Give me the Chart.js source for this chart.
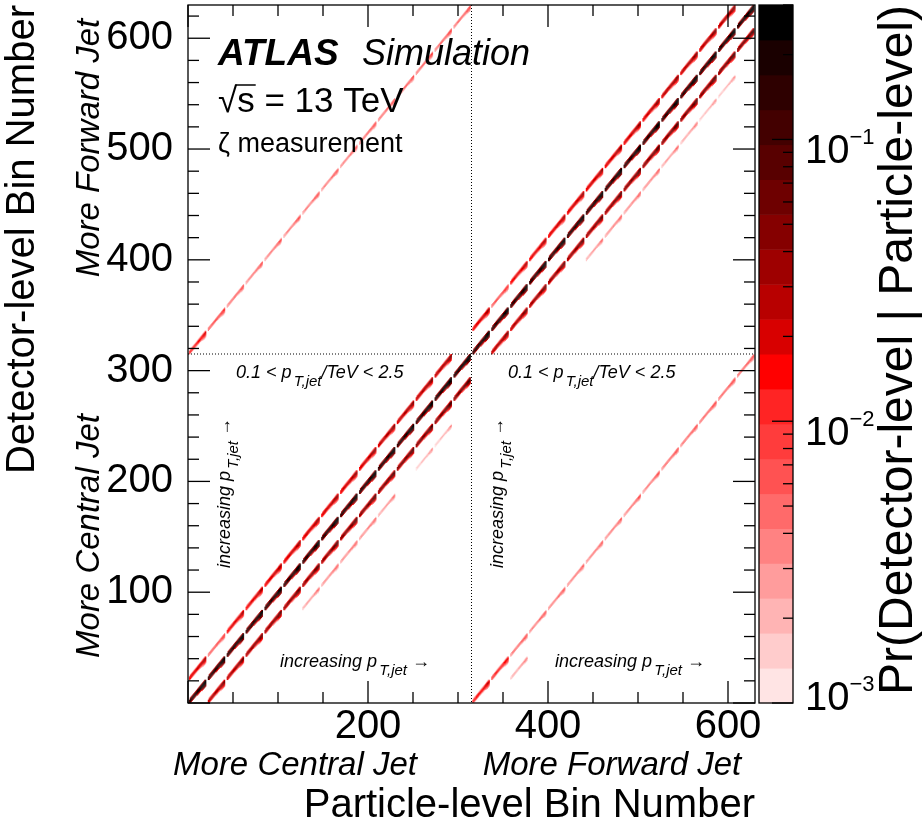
<!DOCTYPE html>
<html>
<head>
<meta charset="utf-8">
<script src="https://cdn.jsdelivr.net/npm/chart.js@4.4.1/dist/chart.umd.min.js"></script>
<style>
  html, body { margin: 0; padding: 0; background: #fff; }
  #wrap { width: 923px; height: 829px; }
</style>
</head>
<body>
<div id="wrap"><canvas id="matrix" width="923" height="829"></canvas></div>
<script>
// Response matrix: 2 eta regions x 15 pT blocks x 21 zeta bins = 630 bins on each axis
const regionBins = 315;
const ptBlocks = 15;
const zetaBins = 21;
const axisMax = 630;
const xTickLabels = [200, 400, 600];
const yTickLabels = [100, 200, 300, 400, 500, 600];

// probability on the diagonal of each pT block (middle of each dash)
const centralMain  = [0.26, 0.25, 0.24, 0.24, 0.24, 0.25, 0.25, 0.26, 0.26, 0.27, 0.27, 0.28, 0.28, 0.29, 0.3];
const centralUp    = [0.03, 0.007, 0.026, 0.028, 0.03, 0.032, 0.033, 0.035, 0.036, 0.038, 0.04, 0.04, 0.042, 0.045];
const centralDown  = [0.045, 0.05, 0.055, 0.06, 0.062, 0.065, 0.068, 0.07, 0.072, 0.075, 0.078, 0.08, 0.082, 0.085];
const centralDown2 = [0, 0, 0, 0, 0.0035, 0.004, 0.004, 0.004, 0.0035, 0, 0.0025, 0.0025, 0];
const forwardMain  = [0.27, 0.26, 0.25, 0.24, 0.24, 0.25, 0.25, 0.26, 0.26, 0.27, 0.27, 0.28, 0.28, 0.29, 0.3];
const forwardUp    = [0.03, 0.008, 0.026, 0.028, 0.03, 0.032, 0.033, 0.035, 0.036, 0.038, 0.04, 0.041, 0.042, 0.045];
const forwardDown  = [0.045, 0.05, 0.055, 0.06, 0.062, 0.065, 0.068, 0.07, 0.072, 0.075, 0.078, 0.08, 0.082, 0.085];
const forwardDown2 = [0, 0, 0, 0, 0.0035, 0.004, 0.004, 0.004, 0.0035, 0.003, 0.0025, 0.0025, 0];
// migrations between the regions (off-diagonal quadrants)
const centralToForward = [0.016, 0.008, 0.0055, 0.005, 0.005, 0.005, 0.005, 0.005, 0.005, 0.0055, 0.0055, 0.0055, 0.006, 0.006, 0.006];
const forwardToCentral = [0.02, 0.014, 0.0055, 0.005, 0.005, 0.0045, 0.0045, 0.0045, 0.005, 0.005, 0.0055, 0.0055, 0.006, 0.006, 0.006];
const forwardToCentralDown = [0, 0.003];

// shape of one dash: detector zeta = particle zeta - offset, weight per particle zeta bin
const zetaOffsets = [-2, -1, 0, 1, 2, 3, 4];
const zetaWeights = [
  [0, 0, .1, .1, .1, .1, .1, .1, .1, .1, .1, .1, .1, .1, .1, .1, .12, .12, .12, 0, 0],
  [0, .4, .45, .45, .45, .45, .45, .45, .45, .45, .45, .45, .45, .45, .5, .5, .55, .6, .6, .45, 0],
  [0, .45, .55, .6, .65, .7, .7, .72, .75, .78, .8, .82, .85, .88, .9, 1, 1.1, 1.2, 1.3, 1.1, 0],
  [0, .4, .45, .45, .45, .45, .45, .45, .45, .45, .45, .5, .5, .55, .6, .65, .75, .85, .9, .75, 0],
  [0, 0, .1, .1, .1, .1, .1, .1, .1, .12, .12, .15, .18, .2, .25, .3, .4, .5, .55, .45, 0],
  [0, 0, 0, 0, 0, 0, 0, 0, 0, 0, .03, .04, .05, .06, .08, .12, .18, .25, .3, .25, 0],
  [0, 0, 0, 0, 0, 0, 0, 0, 0, 0, 0, 0, 0, 0, 0, .04, .08, .12, .14, .1, 0]
];

// palette
const zMin = 1e-3, zMax = 0.3;
const levelColors = ['#ffe4e4', '#ffcccc', '#ffb4b4', '#ff9c9c', '#ff8282', '#ff6a6a', '#ff5252', '#ff3c3c', '#ff2424', '#ff0000',
                     '#d80000', '#b80000', '#9e0000', '#850000', '#6e0000', '#580000', '#430000', '#2e0000', '#1a0000', '#000000'];
const paletteLabels = [-3, -2, -1];

const fam = '"Liberation Sans", Arial, Helvetica, sans-serif';

function colorFor(v) {
  const t = (Math.log10(v) - Math.log10(zMin)) / (Math.log10(zMax) - Math.log10(zMin));
  const i = Math.max(0, Math.min(levelColors.length - 1, Math.floor(t * levelColors.length)));
  return levelColors[i];
}

function addBand(cells, values, partRegion, detRegion, firstPart, shift) {
  values.forEach((v, i) => {
    if (!v) return;
    const pb = firstPart + i, db = pb + shift;
    if (db < 0 || db >= ptBlocks) return;
    for (let k = 0; k < zetaBins; k++) {
      zetaOffsets.forEach((off, j) => {
        const w = zetaWeights[j][k];
        const d = k - off;
        if (!w || d < 0 || d >= zetaBins) return;
        const p = v * w;
        if (p < zMin) return;
        cells.push({
          x: partRegion * regionBins + pb * zetaBins + k,
          y: detRegion * regionBins + db * zetaBins + d,
          v: p
        });
      });
    }
  });
}

const cells = [];
addBand(cells, centralMain, 0, 0, 0, 0);
addBand(cells, centralUp, 0, 0, 0, 1);
addBand(cells, centralDown, 0, 0, 1, -1);
addBand(cells, centralDown2, 0, 0, 2, -2);
addBand(cells, forwardMain, 1, 1, 0, 0);
addBand(cells, forwardUp, 1, 1, 0, 1);
addBand(cells, forwardDown, 1, 1, 1, -1);
addBand(cells, forwardDown2, 1, 1, 2, -2);
addBand(cells, centralToForward, 0, 1, 0, 0);
addBand(cells, forwardToCentral, 1, 0, 0, 0);
addBand(cells, forwardToCentralDown, 1, 0, 1, -1);
cells.sort((a, b) => a.v - b.v);

function line(ctx, x0, y0, x1, y1) {
  ctx.beginPath();
  ctx.moveTo(x0, y0);
  ctx.lineTo(x1, y1);
  ctx.stroke();
}

// p_T,jet with subscript
function ptText(ctx, x, y, pre, post, size) {
  ctx.font = `italic ${size}px ${fam}`;
  ctx.fillText(pre, x, y);
  let w = ctx.measureText(pre).width + size * 0.12;
  const sub = Math.round(size * 0.85);
  ctx.font = `italic ${sub}px ${fam}`;
  ctx.fillText('T,jet', x + w, y + size * 0.45);
  w += ctx.measureText('T,jet').width;
  ctx.font = `italic ${size}px ${fam}`;
  ctx.fillText(post, x + w, y);
}

const heatPlugin = {
  id: 'heat',
  beforeDatasetsDraw(chart) {
    const {ctx, chartArea: a, scales: {x, y}} = chart;
    ctx.save();
    ctx.beginPath();
    ctx.rect(a.left, a.top, a.right - a.left, a.bottom - a.top);
    ctx.clip();
    chart.data.datasets[0].data.forEach(c => {
      const x0 = x.getPixelForValue(c.x), x1 = x.getPixelForValue(c.x + 1);
      const y0 = y.getPixelForValue(c.y + 1), y1 = y.getPixelForValue(c.y);
      ctx.fillStyle = colorFor(c.v);
      ctx.fillRect(x0, y0, x1 - x0 + 0.3, y1 - y0 + 0.3);
    });
    ctx.restore();
  },
  afterDraw(chart) {
    const {ctx, chartArea: a, scales: {x, y, z}} = chart;
    ctx.save();
    ctx.strokeStyle = '#000';
    ctx.fillStyle = '#000';

    // region separators
    ctx.lineWidth = 1;
    ctx.setLineDash([1, 2]);
    const sx = x.getPixelForValue(regionBins), sy = y.getPixelForValue(regionBins);
    line(ctx, sx, a.top, sx, a.bottom);
    line(ctx, a.left, sy, a.right, sy);
    ctx.setLineDash([]);

    // frame and inward ticks on all sides
    ctx.lineWidth = 1.3;
    ctx.strokeRect(a.left, a.top, a.right - a.left, a.bottom - a.top);
    for (let v = 0; v <= axisMax; v += 50) {
      const px = x.getPixelForValue(v), len = v % 200 === 0 ? 22 : 11;
      line(ctx, px, a.bottom, px, a.bottom - len);
      line(ctx, px, a.top, px, a.top + len);
    }
    for (let v = 0; v <= axisMax; v += 20) {
      const py = y.getPixelForValue(v), len = v % 100 === 0 ? 22 : 11;
      line(ctx, a.left, py, a.left + len, py);
      line(ctx, a.right, py, a.right - len, py);
    }

    // colour bar
    const bx0 = a.right + 4, bx1 = a.right + 38;
    const lo = Math.log10(zMin), step = (Math.log10(zMax) - lo) / levelColors.length;
    levelColors.forEach((col, i) => {
      const yb = z.getPixelForValue(Math.pow(10, lo + i * step));
      const yt = z.getPixelForValue(Math.pow(10, lo + (i + 1) * step));
      ctx.fillStyle = col;
      ctx.fillRect(bx0, yt, bx1 - bx0, yb - yt + 0.5);
    });
    ctx.fillStyle = '#000';
    ctx.strokeRect(bx0, a.top, bx1 - bx0, a.bottom - a.top);
    for (let e = -3; e <= -1; e++) {
      for (let m = 1; m <= 9; m++) {
        const v = m * Math.pow(10, e);
        if (v > zMax + 1e-9) continue;
        const py = z.getPixelForValue(v);
        line(ctx, bx1, py, bx1 - (m === 1 ? 21 : 10), py);
      }
    }
    paletteLabels.forEach(e => {
      const py = z.getPixelForValue(Math.pow(10, e));
      const base = Math.min(py + 24, 710);
      ctx.font = `40px ${fam}`;
      ctx.textAlign = 'left';
      ctx.textBaseline = 'alphabetic';
      ctx.fillText('10', bx1 + 12, base);
      const w = ctx.measureText('10').width;
      ctx.font = `22px ${fam}`;
      ctx.fillText('\u2212' + (-e), bx1 + 12 + w, base - 19);
    });

    // palette title, reading upwards
    ctx.save();
    ctx.translate(912, a.top);
    ctx.rotate(-Math.PI / 2);
    ctx.font = `48px ${fam}`;
    ctx.textAlign = 'right';
    ctx.fillText('Pr(Detector-level | Particle-level)', 0, 0);
    ctx.restore();

    // region names along the axes
    ctx.font = `italic 33px ${fam}`;
    ctx.textAlign = 'center';
    ctx.fillText('More Central Jet', 295, 775);
    ctx.fillText('More Forward Jet', 612, 775);
    ctx.save();
    ctx.translate(99, 148);
    ctx.rotate(-Math.PI / 2);
    ctx.fillText('More Forward Jet', 0, 0);
    ctx.restore();
    ctx.save();
    ctx.translate(99, 536);
    ctx.rotate(-Math.PI / 2);
    ctx.fillText('More Central Jet', 0, 0);
    ctx.restore();

    // ATLAS label
    ctx.textAlign = 'left';
    ctx.font = `italic bold 37px ${fam}`;
    ctx.fillText('ATLAS', 218, 65);
    ctx.font = `italic 36px ${fam}`;
    ctx.fillText('Simulation', 362, 65);
    ctx.font = `35px ${fam}`;
    ctx.fillText('\u221As = 13 TeV', 218, 112);
    const rw = ctx.measureText('\u221A').width, sw = ctx.measureText('s').width;
    ctx.lineWidth = 1.5;
    line(ctx, 218 + rw - 2, 85, 218 + rw + sw + 1, 85);
    ctx.font = `27px ${fam}`;
    ctx.fillText('\u03B6 measurement', 218, 152);

    // pT range and direction labels in each lower quadrant
    [[236, 230, 280], [508, 503, 555]].forEach(([tx, rx, ix]) => {
      ptText(ctx, tx, 378, '0.1 < p', '/TeV < 2.5', 18);
      ptText(ctx, ix, 667, 'increasing p', ' \u2192', 18);
      ctx.save();
      ctx.translate(rx, 568);
      ctx.rotate(-Math.PI / 2);
      ptText(ctx, 0, 0, 'increasing p', ' \u2192', 18);
      ctx.restore();
    });
    ctx.restore();
  }
};

new Chart(document.getElementById('matrix'), {
  type: 'scatter',
  data: {
    datasets: [{ label: 'Pr', data: cells, pointRadius: 0, pointHoverRadius: 0 }]
  },
  options: {
    responsive: false,
    animation: false,
    events: [],
    layout: { padding: { top: 5, left: 0, right: 0, bottom: 0 } },
    plugins: { legend: { display: false }, tooltip: { enabled: false } },
    scales: {
      x: {
        type: 'linear', position: 'bottom', min: 0, max: axisMax,
        grid: { display: false }, border: { display: false },
        afterBuildTicks: s => { s.ticks = xTickLabels.map(v => ({ value: v })); },
        ticks: {
          autoSkip: false, maxRotation: 0, padding: -8,
          color: '#000', font: { family: fam, size: 40 }
        },
        title: {
          display: true, text: 'Particle-level Bin Number', align: 'end', color: '#000',
          font: { family: fam, size: 40, lineHeight: 1.15 }, padding: 0
        },
        afterFit: s => { s.height = 126; s.paddingLeft = 0; s.paddingRight = 0; }
      },
      y: {
        type: 'linear', position: 'left', min: 0, max: axisMax,
        grid: { display: false }, border: { display: false },
        afterBuildTicks: s => { s.ticks = yTickLabels.map(v => ({ value: v })); },
        ticks: {
          autoSkip: false, padding: 7,
          color: '#000', font: { family: fam, size: 40 }
        },
        title: {
          display: true, text: 'Detector-level Bin Number', align: 'end', color: '#000',
          font: { family: fam, size: 40, lineHeight: 1.15 }, padding: 0
        },
        afterFit: s => { s.width = 188; s.paddingTop = 0; s.paddingBottom = 0; }
      },
      z: {
        type: 'logarithmic', position: 'right', min: zMin, max: zMax,
        grid: { display: false }, border: { display: false },
        ticks: { display: false },
        afterFit: s => { s.width = 168; s.paddingTop = 0; s.paddingBottom = 0; }
      }
    }
  },
  plugins: [heatPlugin]
});
</script>
</body>
</html>
